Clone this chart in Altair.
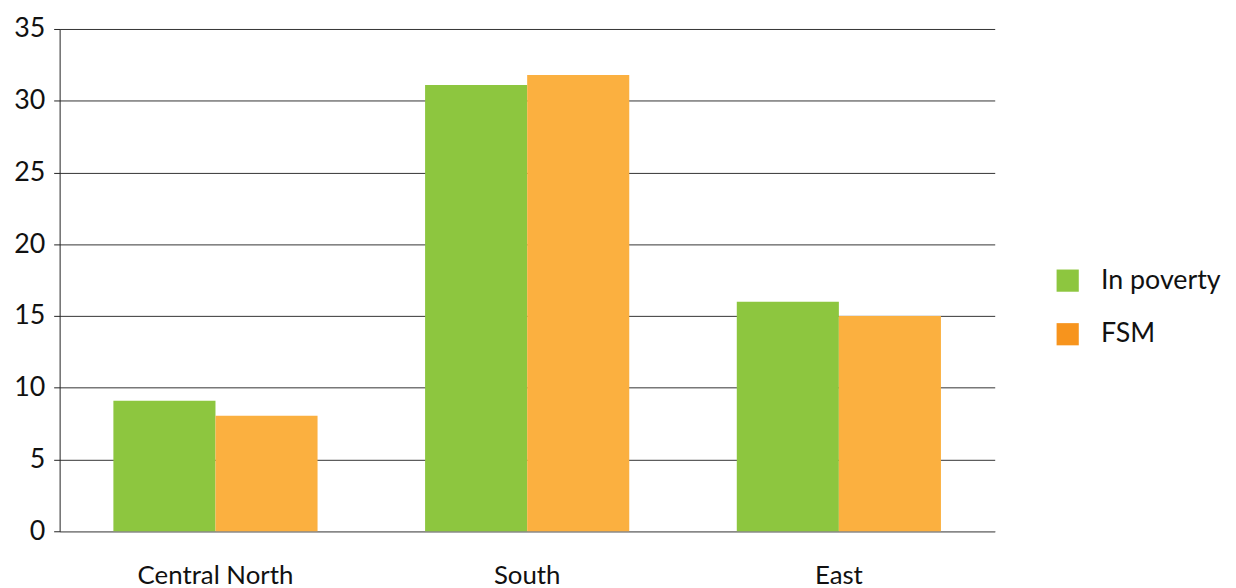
import altair as alt
import pandas as pd

regions = ["Central North", "South", "East"]
series = ["In poverty", "FSM"]
in_poverty = [9.1, 31.1, 16.0]
fsm = [8.05, 31.8, 15.0]
y_ticks = [0, 5, 10, 15, 20, 25, 30, 35]

bar_colors = ["#8DC63F", "#FBB040"]
legend_colors = ["#8DC63F", "#F7941D"]

rows = []
for i, r in enumerate(regions):
    rows.append({"region": r, "series": series[0], "value": in_poverty[i]})
    rows.append({"region": r, "series": series[1], "value": fsm[i]})
df = pd.DataFrame(rows)

FONT = "Lato"

x_enc = alt.X("region:N", sort=regions, title=None,
              scale=alt.Scale(paddingInner=0.345, paddingOuter=0.1725),
              axis=alt.Axis(labelAngle=0, labelFontSize=26, labelFont=FONT, labelColor="#111",
                            labelPadding=32, ticks=False, domainColor="#888", domainWidth=1.5))
y_enc = alt.Y("value:Q", title=None,
              scale=alt.Scale(domain=[0, 35], nice=False),
              axis=alt.Axis(values=y_ticks, labelFontSize=27, labelFont=FONT, labelColor="#111",
                            labelPadding=9, tickSize=6, tickColor="#222", domainColor="#222",
                            gridColor="#333", gridWidth=1, domain=True))

bars = alt.Chart(df).mark_bar().encode(
    x=x_enc,
    xOffset=alt.XOffset("series:N", sort=series),
    y=y_enc,
    color=alt.Color("series:N", sort=series, scale=alt.Scale(domain=series, range=bar_colors), legend=None),
)

legend_layer = alt.Chart(df).mark_square(opacity=0).encode(
    x=alt.X("region:N", sort=regions),
    y=alt.Y("value:Q"),
    fill=alt.Fill("series:N", sort=series, scale=alt.Scale(domain=series, range=legend_colors),
                  legend=alt.Legend(title=None, orient="none", legendX=1002, legendY=240,
                                    symbolType="square", symbolSize=500, symbolOpacity=1,
                                    labelFontSize=27, labelFont=FONT, labelColor="#111",
                                    rowPadding=26, labelOffset=20, symbolStrokeWidth=0)),
)

chart = alt.layer(bars, legend_layer).resolve_scale(color="independent", fill="independent").properties(
    width=942, height=506,
    autosize=alt.AutoSizeParams(type="none"),
    padding={"left": 52, "top": 19, "right": 235, "bottom": 55},
).configure_view(stroke=None).configure_axisY(grid=True).configure_axisX(grid=False)

chart.save("out.html", embed_options={"renderer": "svg", "actions": False})
